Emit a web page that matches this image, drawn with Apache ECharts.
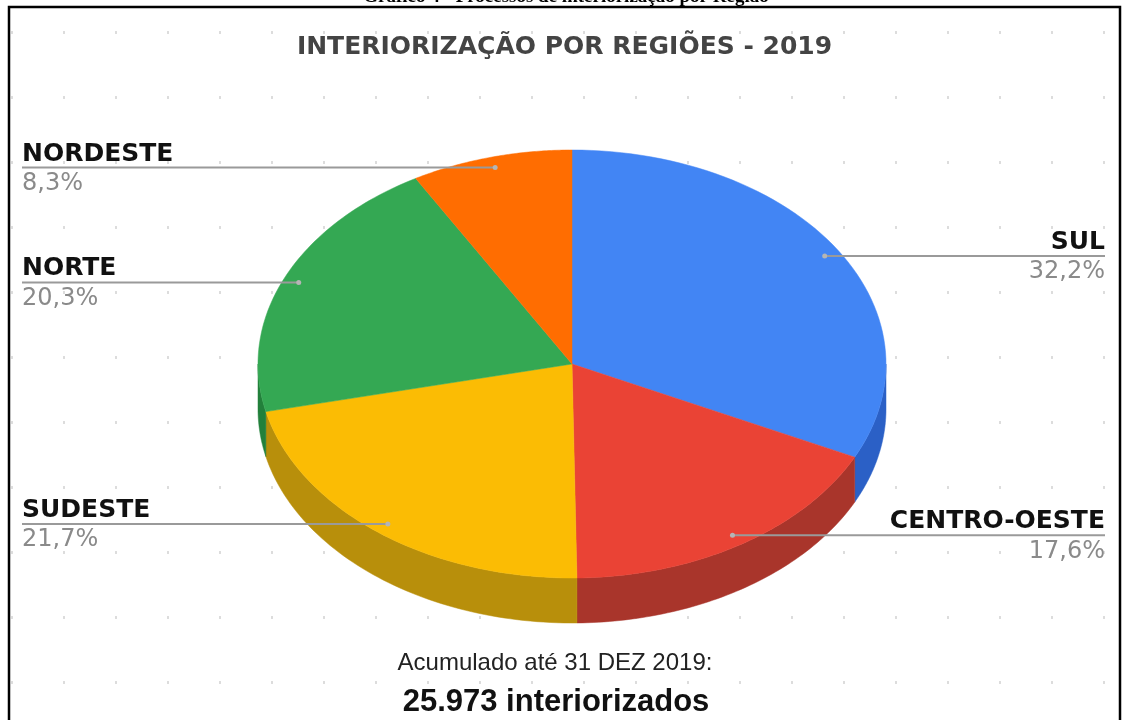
<!DOCTYPE html>
<html>
<head>
<meta charset="utf-8">
<title>Interiorização por regiões - 2019</title>
<script src="https://cdn.jsdelivr.net/npm/echarts@6/dist/echarts.min.js"></script>
<style>
  html, body { margin: 0; padding: 0; background: #fff; }
  #chart {
    width: 1129px;
    height: 720px;
    background-image: radial-gradient(circle, #dcdcdc 1.1px, transparent 1.5px);
    background-size: 52px 65px;
    background-position: -14px 0px;
  }
</style>
</head>
<body>
<div id="chart"></div>
<script>
// data
const regions = ["SUL", "CENTRO-OESTE", "SUDESTE", "NORTE", "NORDESTE"];
const shares = [32.2, 17.6, 21.7, 20.3, 8.3];
const labelSide = ["right", "right", "left", "left", "left"];
const topColors = ["#4285f4", "#ea4335", "#fbbc04", "#34a853", "#ff6d01"];
const sideColors = ["#2b60c6", "#a9352b", "#b88f0b", "#22803b", "#c25200"];
const heading = "Gráfico 4 - Processos de interiorização por Região";
const chartTitle = "INTERIORIZAÇÃO POR REGIÕES - 2019";
const dateText = "Acumulado até 31 DEZ 2019:";
const totalText = "25.973 interiorizados";

// pie geometry (tilted pie, px)
const cx = 572, cy = 364, rx = 314, ry = 214, depth = 45;

const total = shares.reduce((a, b) => a + b, 0);
let acc = 0;
const slices = shares.map((v, i) => {
  const start = acc / total * Math.PI * 2;
  acc += v;
  return [start, acc / total * Math.PI * 2, v, i];
});

function arc(a, b, dy) {
  const pts = [];
  const n = 64;
  for (let k = 0; k <= n; k++) {
    const t = a + (b - a) * k / n;
    pts.push([cx + rx * Math.sin(t), cy + dy - ry * Math.cos(t)]);
  }
  return pts;
}

function pct(v) {
  return v.toFixed(1).replace(".", ",") + "%";
}

function sideItem(params, api) {
  const s = api.value(0), e = api.value(1), i = api.value(3);
  const a0 = Math.max(s, Math.PI / 2);
  const a1 = Math.min(e, Math.PI * 1.5);
  if (a0 >= a1) return null;
  const pts = arc(a0, a1, 0).concat(arc(a1, a0, depth));
  return {
    type: "polygon",
    shape: { points: pts },
    style: { fill: sideColors[i], stroke: sideColors[i], lineWidth: 0.5 }
  };
}

function faceItem(params, api) {
  const s = api.value(0), e = api.value(1), v = api.value(2), i = api.value(3);
  const m = (s + e) / 2;
  const px = cx + 0.95 * rx * Math.sin(m);
  const py = cy - 0.95 * ry * Math.cos(m);
  const left = labelSide[i] === "left";
  const ex = left ? 22 : 1105;
  return {
    type: "group",
    children: [
      {
        type: "polygon",
        shape: { points: [[cx, cy]].concat(arc(s, e, 0)) },
        style: { fill: topColors[i], stroke: topColors[i], lineWidth: 0.5 }
      },
      {
        type: "line",
        shape: { x1: px, y1: py, x2: ex, y2: py },
        style: { stroke: "#9a9a9a", lineWidth: 2 }
      },
      {
        type: "circle",
        shape: { cx: px, cy: py, r: 2.5 },
        style: { fill: "#b5b5b5" }
      },
      {
        type: "text",
        x: ex,
        y: py - 1,
        style: {
          text: regions[i],
          align: left ? "left" : "right",
          verticalAlign: "bottom",
          font: 'bold 25px "DejaVu Sans"',
          fill: "#111"
        }
      },
      {
        type: "text",
        x: ex,
        y: py + 4,
        style: {
          text: pct(v),
          align: left ? "left" : "right",
          verticalAlign: "top",
          font: '24px "DejaVu Sans"',
          fill: "#8a8a8a"
        }
      }
    ]
  };
}

const myChart = echarts.init(document.getElementById("chart"));
const option = {
  animation: false,
  title: {
    text: chartTitle,
    left: "center",
    top: 30,
    textStyle: {
      fontFamily: '"DejaVu Sans"',
      fontSize: 25,
      fontWeight: "bold",
      color: "#444"
    }
  },
  graphic: [
    {
      type: "rect",
      shape: { x: 9, y: 7, width: 1111, height: 800 },
      style: { fill: null, stroke: "#000", lineWidth: 2.5 }
    },
    {
      type: "text",
      x: 566,
      y: 7,
      style: {
        text: heading,
        align: "center",
        verticalAlign: "bottom",
        font: 'bold 19px "Liberation Serif"',
        fill: "#000"
      }
    },
    {
      type: "text",
      x: 555,
      y: 675,
      style: {
        text: dateText,
        align: "center",
        verticalAlign: "bottom",
        font: '24px "Liberation Sans"',
        fill: "#222"
      }
    },
    {
      type: "text",
      x: 556,
      y: 718,
      style: {
        text: totalText,
        align: "center",
        verticalAlign: "bottom",
        font: 'bold 31px "Liberation Sans"',
        fill: "#111"
      }
    }
  ],
  series: [
    {
      type: "custom",
      name: "lateral",
      coordinateSystem: "none",
      silent: true,
      z: 1,
      renderItem: sideItem,
      data: slices
    },
    {
      type: "custom",
      name: "regioes",
      coordinateSystem: "none",
      silent: true,
      z: 2,
      renderItem: faceItem,
      data: slices
    }
  ]
};
myChart.setOption(option);
</script>
</body>
</html>
